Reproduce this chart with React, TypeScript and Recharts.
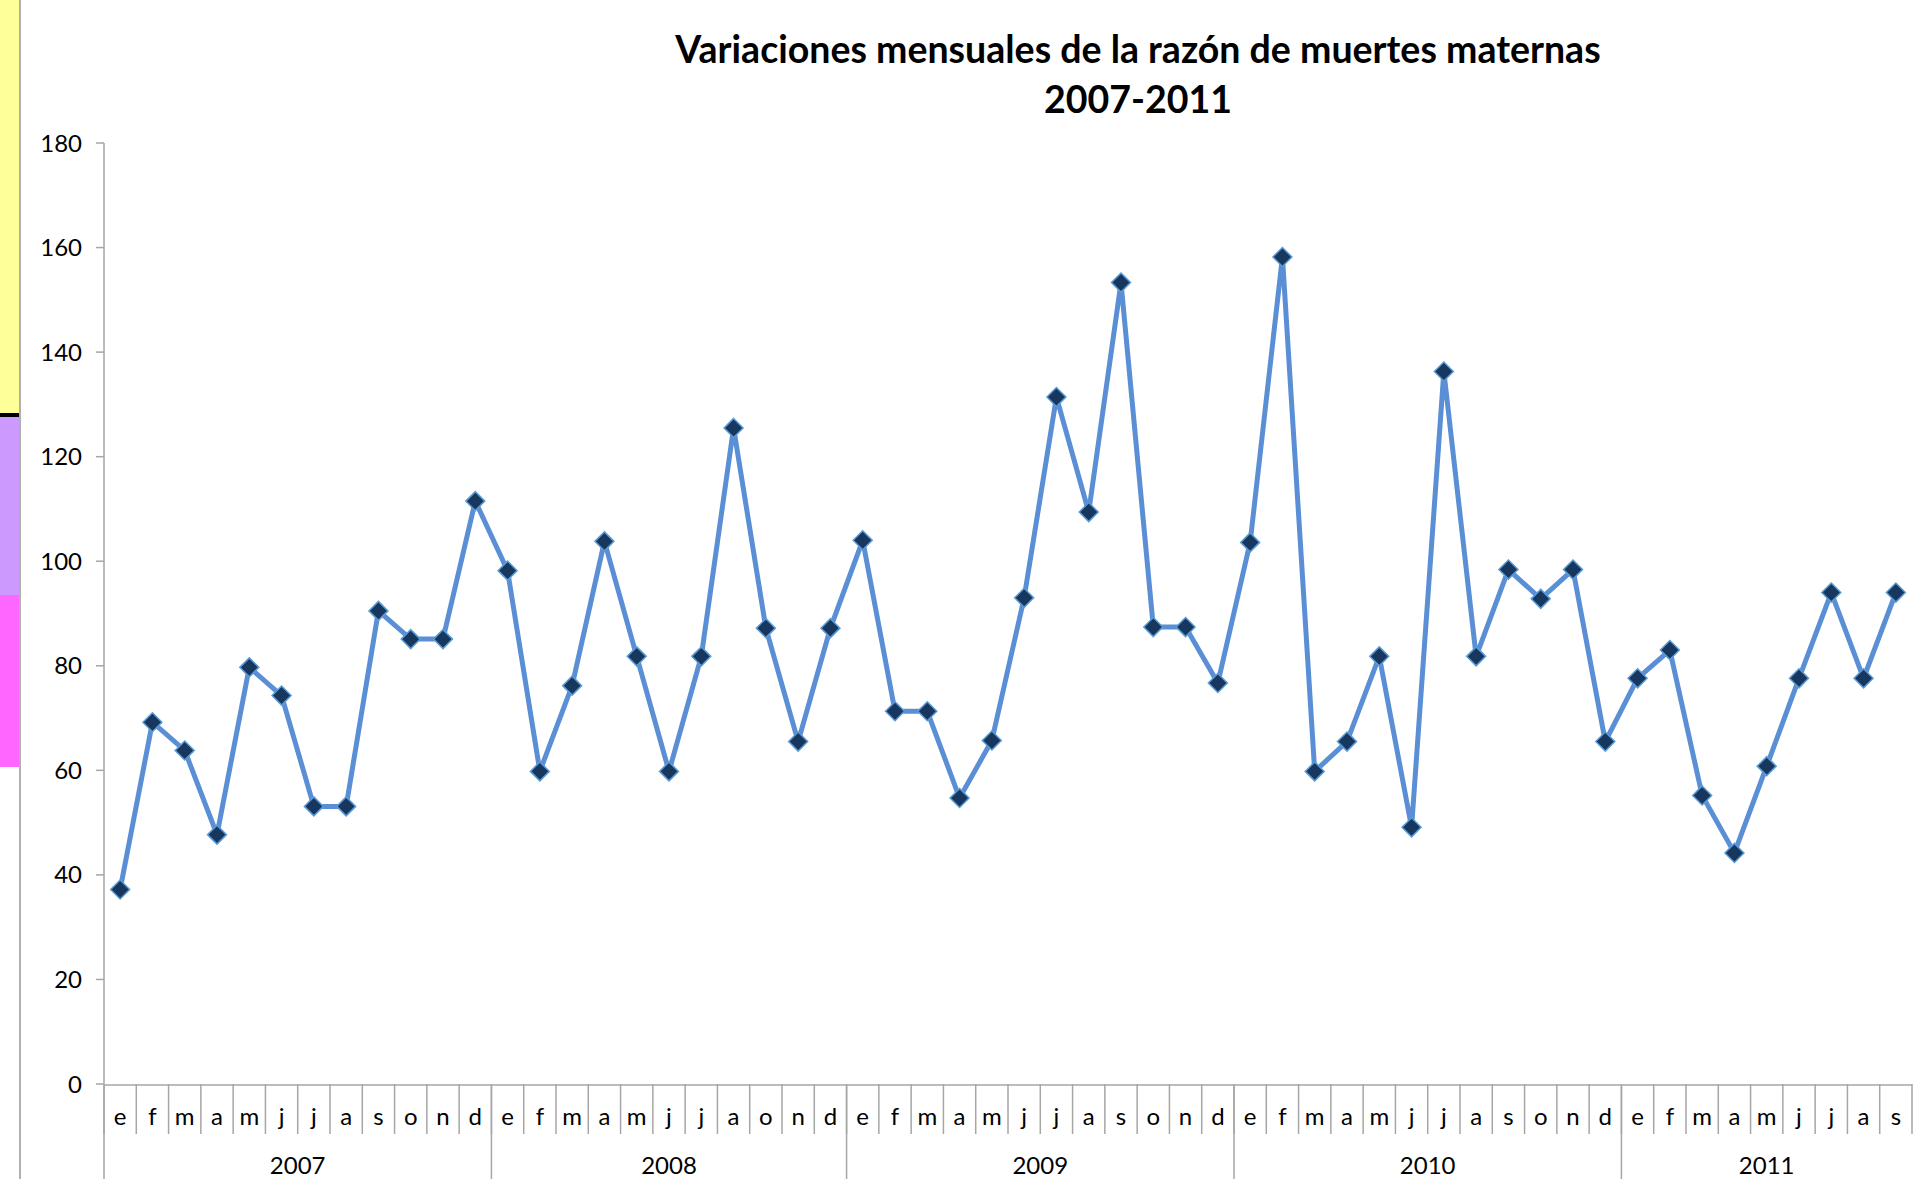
import { LineChart, Line, XAxis, YAxis } from "recharts";

const YEARS = ["2007", "2008", "2009", "2010", "2011"];

const MONTHS_2007 = ["e", "f", "m", "a", "m", "j", "j", "a", "s", "o", "n", "d"];
const MONTHS_2008 = ["e", "f", "m", "a", "m", "j", "j", "a", "o", "n", "d"];
const MONTHS_2009 = ["e", "f", "m", "a", "m", "j", "j", "a", "s", "o", "n", "d"];
const MONTHS_2010 = ["e", "f", "m", "a", "m", "j", "j", "a", "s", "o", "n", "d"];
const MONTHS_2011 = ["e", "f", "m", "a", "m", "j", "j", "a", "s"];

const RMM_2007 = [37.2, 69.2, 63.8, 47.7, 79.7, 74.3, 53.1, 53.1, 90.5, 85.1, 85.1, 111.5];
const RMM_2008 = [98.2, 59.8, 76.2, 103.8, 81.8, 59.8, 81.8, 125.5, 87.2, 65.5, 87.2];
const RMM_2009 = [104.0, 71.3, 71.3, 54.7, 65.7, 93.0, 131.4, 109.4, 153.3, 87.4, 87.4, 76.7];
const RMM_2010 = [103.6, 158.2, 59.8, 65.5, 81.8, 49.1, 136.3, 81.8, 98.4, 92.8, 98.4, 65.5];
const RMM_2011 = [77.6, 83.0, 55.2, 44.2, 60.8, 77.6, 94.0, 77.6, 94.0];

const Y_TICKS = [0, 20, 40, 60, 80, 100, 120, 140, 160, 180];

const MONTHS = [MONTHS_2007, MONTHS_2008, MONTHS_2009, MONTHS_2010, MONTHS_2011];
const VALUES = [RMM_2007, RMM_2008, RMM_2009, RMM_2010, RMM_2011];

const data: { i: number; month: string; year: string; value: number }[] = [];
const yearStarts: number[] = [];
YEARS.forEach((year, k) => {
  yearStarts.push(data.length);
  MONTHS[k].forEach((m, j) => {
    data.push({ i: data.length, month: m, year, value: VALUES[k][j] });
  });
});
const N = data.length;

const monthTicks = data.map((d) => d.i);
const dividerTicks = [-0.5, ...data.map((d) => d.i + 0.5)];
const yearLineTicks = yearStarts.map((s) => s - 0.5);
const yearCenters = yearStarts.map((s, k) => s + (MONTHS[k].length - 1) / 2);

const FONT = "Lato, Carlito, Calibri, 'Open Sans', sans-serif";
const GRID = "#A6A6A6";

const Diamond = (props: any) => {
  const { cx, cy, index } = props;
  if (cx == null || cy == null) return null;
  const r = 9.5;
  return (
    <polygon
      key={`d-${index}`}
      points={`${cx},${cy - r} ${cx + r},${cy} ${cx},${cy + r} ${cx - r},${cy}`}
      fill="#17375E"
      stroke="#5B9BD5"
      strokeWidth={1.5}
    />
  );
};

const blank = () => "";

export default function App() {
  return (
    <div
      style={{
        position: "absolute",
        left: 0,
        top: 0,
        width: 1916,
        height: 1179,
        background: "#fff",
        overflow: "hidden",
        fontFamily: FONT,
      }}
    >
      {/* leftover spreadsheet colour strip on the left edge */}
      <div style={{ position: "absolute", left: 0, top: 0, width: 19, height: 413, background: "#FFFF99" }} />
      <div style={{ position: "absolute", left: 0, top: 413, width: 19, height: 4, background: "#000" }} />
      <div style={{ position: "absolute", left: 0, top: 417, width: 19, height: 178, background: "#CC99FF" }} />
      <div style={{ position: "absolute", left: 0, top: 595, width: 19, height: 172, background: "#FF66FF" }} />
      <div style={{ position: "absolute", left: 19, top: 0, width: 2, height: 1179, background: "#B0B0B0" }} />

      <div
        style={{
          position: "absolute",
          left: 1138 - 700,
          top: 24,
          width: 1400,
          textAlign: "center",
          fontWeight: 700,
          fontSize: 37.5,
          lineHeight: "50px",
          color: "#000",
        }}
      >
        Variaciones mensuales de la razón de muertes maternas
        <br />
        2007-2011
      </div>

      <div style={{ position: "absolute", left: 0, top: 0 }}>
        <LineChart
          width={1916}
          height={1179}
          data={data}
          margin={{ top: 143, right: 4, bottom: 91, left: 0 }}
        >
          <YAxis
            width={104}
            domain={[0, 180]}
            ticks={Y_TICKS}
            interval={0}
            tickSize={8}
            tickMargin={14}
            axisLine={{ stroke: GRID, strokeWidth: 1.5 }}
            tickLine={{ stroke: GRID, strokeWidth: 1.5 }}
            tick={{ fill: "#000", fontSize: 24, fontFamily: FONT }}
          />
          <XAxis
            xAxisId="m"
            type="number"
            dataKey="i"
            domain={[-0.5, N - 0.5]}
            ticks={monthTicks}
            interval={0}
            height={1}
            tickSize={0}
            tickMargin={23}
            tickFormatter={(v: number) => data[v]?.month ?? ""}
            axisLine={{ stroke: GRID, strokeWidth: 1.5 }}
            tickLine={false}
            tick={{ fill: "#000", fontSize: 24, fontFamily: FONT }}
          />
          <XAxis
            xAxisId="div"
            type="number"
            dataKey="i"
            domain={[-0.5, N - 0.5]}
            ticks={dividerTicks}
            interval={0}
            height={1}
            tickSize={50}
            tickFormatter={blank}
            axisLine={false}
            tickLine={{ stroke: GRID, strokeWidth: 1.5 }}
            tick={{ fontSize: 1, fill: "none" }}
          />
          <XAxis
            xAxisId="yr"
            type="number"
            dataKey="i"
            domain={[-0.5, N - 0.5]}
            ticks={yearLineTicks}
            interval={0}
            height={1}
            tickSize={100}
            tickFormatter={blank}
            axisLine={false}
            tickLine={{ stroke: GRID, strokeWidth: 1.5 }}
            tick={{ fontSize: 1, fill: "none" }}
          />
          <XAxis
            xAxisId="yrLabel"
            type="number"
            dataKey="i"
            domain={[-0.5, N - 0.5]}
            ticks={yearCenters}
            interval={0}
            height={1}
            tickSize={0}
            tickMargin={70}
            tickFormatter={(v: number) => YEARS[yearCenters.indexOf(v)] ?? ""}
            axisLine={false}
            tickLine={false}
            tick={{ fill: "#000", fontSize: 24, fontFamily: FONT }}
          />
          <Line
            xAxisId="m"
            type="linear"
            dataKey="value"
            stroke="#5A8FD6"
            strokeWidth={5}
            dot={<Diamond />}
            activeDot={false}
            isAnimationActive={false}
          />
        </LineChart>
      </div>
    </div>
  );
}
